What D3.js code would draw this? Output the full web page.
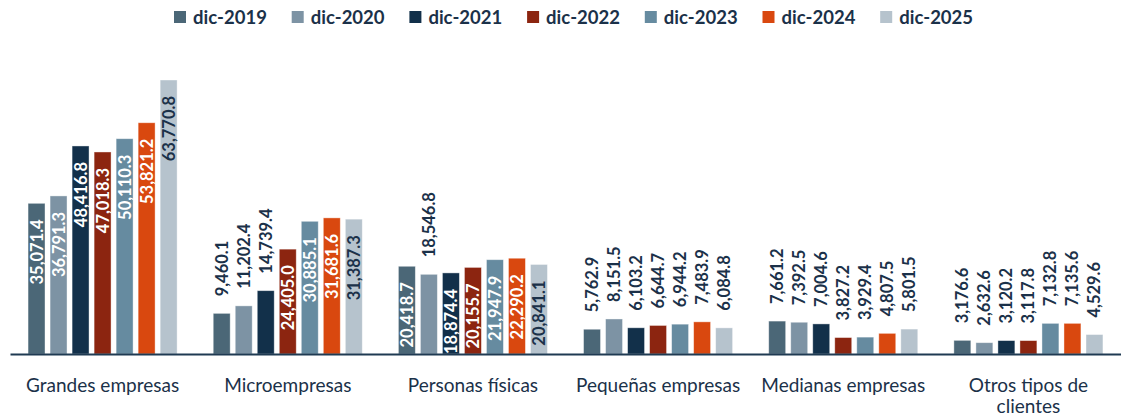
<!DOCTYPE html>
<html><head><meta charset="utf-8">
<script src="https://cdn.jsdelivr.net/npm/d3@7/dist/d3.min.js"></script>
<style>body{margin:0;background:#fff}svg{display:block}text{font-family:Lato,"Noto Sans",sans-serif}</style>
</head><body><svg id="c" width="1121" height="417"></svg>
<script>
const categories = ["Grandes empresas","Microempresas","Personas físicas","Pequeñas empresas","Medianas empresas","Otros tipos de clientes"];
const seriesNames = ["dic-2019","dic-2020","dic-2021","dic-2022","dic-2023","dic-2024","dic-2025"];
const dic2019 = [35071.4, 9460.1, 20418.7, 5762.9, 7661.2, 3176.6];
const dic2020 = [36791.3, 11202.4, 18546.8, 8151.5, 7392.5, 2632.6];
const dic2021 = [48416.8, 14739.4, 18874.4, 6103.2, 7004.6, 3120.2];
const dic2022 = [47018.3, 24405.0, 20155.7, 6644.7, 3827.2, 3117.8];
const dic2023 = [50110.3, 30885.1, 21947.9, 6944.2, 3929.4, 7132.8];
const dic2024 = [53821.2, 31681.6, 22290.2, 7483.9, 4807.5, 7135.6];
const dic2025 = [63770.8, 31387.3, 20841.1, 6084.8, 5801.5, 4529.6];
const seriesValues = [dic2019, dic2020, dic2021, dic2022, dic2023, dic2024, dic2025];
const colors = ["#4b6777","#7d93a4","#12304a","#8c2510","#668ba0","#d9480f","#b6c3cd"];
const labelColorsInside = ["#ffffff","#ffffff","#ffffff","#ffffff","#ffffff","#ffffff","#1b3149"];
const dark = "#1b3149";

const svg = d3.select("#c");
const baseY = 354;
const x0 = d3.scaleBand().domain(categories).range([10, 1121]).padding(0);
const x1 = d3.scaleBand().domain(seriesNames).range([0, x0.bandwidth()]).paddingInner(0.23).paddingOuter(0.82);
const y = d3.scaleLinear().domain([0, 70000]).range([baseY, baseY - 70000 * 274 / 63770.8]);

const fmt = d3.format(",.1f");
const data = [];
categories.forEach((c, ci) => seriesNames.forEach((s, si) => data.push({c, s, si, v: seriesValues[si][ci]})));

svg.append("g").selectAll("rect").data(data).join("rect")
  .attr("x", d => x0(d.c) + x1(d.s))
  .attr("y", d => y(d.v))
  .attr("width", x1.bandwidth())
  .attr("height", d => baseY - y(d.v))
  .attr("fill", d => colors[d.si])
  .attr("stroke", "#ffffff").attr("stroke-opacity", 0.5).attr("stroke-width", 0.8);

svg.append("g").selectAll("text").data(data).join("text")
  .attr("font-size", 16.5).attr("font-weight", 700)
  .attr("dominant-baseline", "central")
  .text(d => fmt(d.v))
  .each(function(d) {
    const h = baseY - y(d.v);
    const inside = h >= 80.5;
    const cx = x0(d.c) + x1(d.s) + x1.bandwidth() / 2;
    let ty, anchor, fill;
    if (inside) { ty = y(d.v) + 16; anchor = "end"; fill = labelColorsInside[d.si]; }
    else { ty = y(d.v) - 17; anchor = "start"; fill = dark; }
    d3.select(this).attr("text-anchor", anchor).attr("fill", fill)
      .attr("transform", `translate(${cx},${ty}) rotate(-90)`);
  });

// axis baseline
const xAxis = d3.axisBottom(x0).tickSize(0).tickPadding(0);
const ax = svg.append("g").attr("transform", `translate(0,${baseY})`).call(xAxis);
ax.select(".domain").attr("stroke", "#1f3a52").attr("stroke-width", 2);
ax.selectAll(".tick text").attr("font-size", 19).attr("fill", dark).attr("y", 0).attr("dy", 0)
  .attr("font-family", "Lato, sans-serif")
  .each(function(d) {
    const t = d3.select(this);
    const words = d.split(" ");
    t.text(null);
    let line = [], lines = [];
    const tmp = t.append("tspan");
    words.forEach(w => {
      line.push(w);
      tmp.text(line.join(" "));
      if (tmp.node().getComputedTextLength() > x0.bandwidth() - 4 && line.length > 1) {
        line.pop(); lines.push(line.join(" ")); line = [w];
      }
    });
    lines.push(line.join(" "));
    tmp.remove();
    lines.forEach((l, i) => t.append("tspan").attr("x", 0).attr("y", 38 + i * 21).text(l));
  });

// legend
const lx = d3.scaleBand().domain(seriesNames).range([174, 174 + 7 * 117.7]);
const lg = svg.append("g").selectAll("g").data(seriesNames).join("g")
  .attr("transform", d => `translate(${lx(d)},0)`);
lg.append("rect").attr("x", 0).attr("y", 11).attr("width", 12).attr("height", 12)
  .attr("fill", (d, i) => colors[i]);
lg.append("text").attr("x", 19).attr("y", 17).attr("dominant-baseline", "central")
  .attr("font-size", 18.5).attr("font-weight", 700).attr("fill", dark).text(d => d);
</script></body></html>
